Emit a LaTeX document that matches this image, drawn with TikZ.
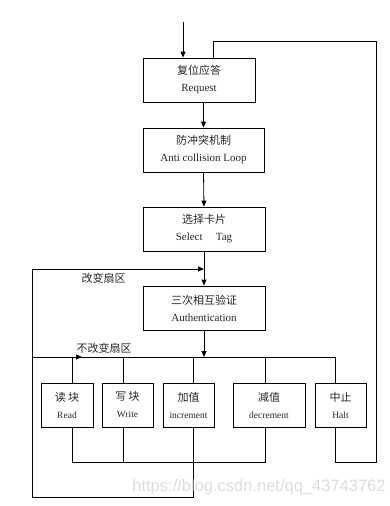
\documentclass[tikz,border=0pt]{standalone}
\usepackage{fontspec}
\setmainfont{Liberation Serif}
\newfontfamily\cjk{Noto Sans CJK SC}
\newfontfamily\wmfont{Liberation Sans}
\usetikzlibrary{arrows.meta}
\begin{document}
\begin{tikzpicture}[x=1pt,y=-1pt,
  line width=0.8pt,
  boxstyle/.style={draw, line width=0.8pt, minimum height=44pt, inner sep=0pt, align=center, text=black!85},
  bigtxt/.style={font=\fontsize{11}{17}\selectfont},
  smalltxt/.style={font=\fontsize{9.5}{17}\selectfont},
  arr/.style={-{Triangle[length=6pt,width=5pt]}},
  lbl/.style={text=black!85, font=\cjk\fontsize{11}{13}\selectfont, inner sep=0pt}]
\useasboundingbox (0,0) rectangle (390,506);
% main boxes
\node[boxstyle,bigtxt,minimum width=112pt] (b1) at (199,80) {{\cjk 复位应答}\\Request};
\node[boxstyle,bigtxt,minimum width=121pt] (b2) at (203.5,150) {{\cjk 防冲突机制}\\Anti collision Loop};
\node[boxstyle,bigtxt,minimum width=122pt] (b3) at (204,229) {{\cjk 选择卡片}\\Select\hspace{1.2em}Tag};
\node[boxstyle,bigtxt,minimum width=122pt] (b4) at (204,308) {{\cjk 三次相互验证}\\Authentication};
% bottom boxes
\node[boxstyle,smalltxt,minimum width=52pt] (rd) at (67,405) {{\cjk\fontsize{11}{17}\selectfont 读 块}\\Read};
\node[boxstyle,smalltxt,minimum width=51pt] (wr) at (127.5,405) {{\cjk\fontsize{11}{17}\selectfont 写 块}\\Write};
\node[boxstyle,smalltxt,minimum width=51pt] (inc) at (188.5,405) {{\cjk\fontsize{11}{17}\selectfont 加值}\\increment};
\node[boxstyle,smalltxt,minimum width=72pt] (dec) at (269,405) {{\cjk\fontsize{11}{17}\selectfont 减值}\\decrement};
\node[boxstyle,smalltxt,minimum width=51pt] (halt) at (340.5,405) {{\cjk\fontsize{11}{17}\selectfont 中止}\\Halt};
% labels
\node[lbl] (l1) at (103.5,278) {改变扇区};
\node[lbl] (l2) at (104,348) {不改变扇区};
% coordinates
\coordinate (in) at (183,22);
\coordinate (fb) at (32,269);
\coordinate (bus) at (32,357);
\coordinate (lo) at (32,497);
\coordinate (xrd) at (72,357);
\coordinate (xwr) at (123,357);
\coordinate (xinc) at (193,357);
\coordinate (xdec) at (265,357);
\coordinate (xhalt) at (335,357);
\coordinate (bj) at (72,462);
\coordinate (rt) at (376,462);
\coordinate (ret) at (213,41);
\coordinate (busarr) at (82,357);
% main flow
\draw[arr] (in) -- (in |- b1.north);
\draw[arr] (b1.south -| b2.center) -- (b2.north);
\draw[arr] (b2.south) -- (b3.north);
\draw[arr] (b3.south) -- (b4.north);
\draw[arr] (b4.south) -- (b4.south |- bus);
% bus
\draw (bus) -- (xhalt);
\draw[arr] (bus) -- (busarr);
\draw (xrd) -- (xrd |- rd.north);
\draw (xwr) -- (xwr |- wr.north);
\draw (xinc) -- (xinc |- inc.north);
\draw (xdec) -- (xdec |- dec.north);
\draw (xhalt) -- (xhalt |- halt.north);
% bottom join
\draw (xrd |- rd.south) -- (bj) -- (xdec |- bj) -- (xdec |- dec.south);
\draw (xwr |- wr.south) -- (xwr |- bj);
% sector-change loop
\draw[arr] (xinc |- inc.south) -- (xinc |- lo) -- (lo) -- (fb) -- (fb -| b4.north);
% halt return
\draw (xhalt |- halt.south) -- (xhalt |- bj) -- (rt) -- (rt |- ret) -- (ret) -- (ret |- b1.north);
% watermark
\node[text=black!14, font=\wmfont\fontsize{16.5}{18}\selectfont, inner sep=0pt] (wm) at (259,487) {https://blog.csdn.net/qq\_43743762};
\end{tikzpicture}
\end{document}
